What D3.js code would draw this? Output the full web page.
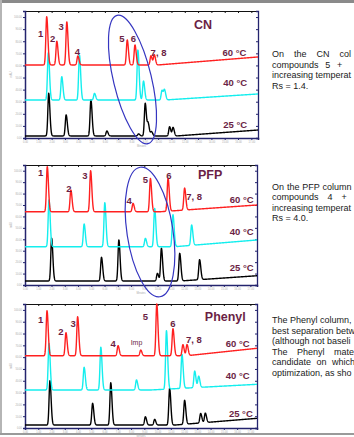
<!DOCTYPE html>
<html>
<head>
<meta charset="utf-8">
<script src="https://cdn.jsdelivr.net/npm/d3@7/dist/d3.min.js"></script>
<style>
  body { margin: 0; background: #fff; overflow: hidden; }
  svg { display: block; font-family: "Liberation Sans", Arial, sans-serif; }
</style>
</head>
<body>
<svg id="chart" width="354" height="437"></svg>
<script>
// ---- data (retention time in minutes, signal in mAU) ----
const panelNames = ["CN", "PFP", "Phenyl"];
const tempLabels = ["60 °C", "40 °C", "25 °C"];

// baseline drift of each trace: [time, mAU] (60, 40, 25 °C)
const cnBase = [
  [[0, 60.4], [10.0, 60.4], [17.5, 67.0]],
  [[0, 31.4], [10.5, 31.4], [17.5, 36.4]],
  [[0, 1.7], [11.4, 1.7], [17.5, 6.6]]
];
const pfpBase = [
  [[0, 64.1], [10.2, 64.1], [17.5, 70.0]],
  [[0, 33.5], [11.3, 33.5], [17.5, 39.4]],
  [[0, 3.5], [11.7, 3.5], [17.5, 8.1]]
];
const phenylBase = [
  [[0, 61.2], [12.2, 61.2], [17.5, 67.5]],
  [[0, 32.2], [9.5, 32.2], [17.5, 37.0]],
  [[0, 2.5], [11.3, 2.5], [17.5, 8.2]]
];

// peaks: [retention time, height above baseline]
const cnPeaks = [
  [[1.63, 39.9], [2.39, 19.6], [3.14, 35.6], [3.97, 7.4], [7.68, 20.7], [8.26, 16.5], [9.46, 7.6], [9.71, 8.4]],
  [[1.75, 39.1], [2.76, 19.3], [4.09, 37.2], [5.22, 5.5], [8.48, 41.3], [8.90, 15.7], [10.29, 8.0], [10.48, 8.0]],
  [[1.78, 35.3], [3.09, 17.4], [4.95, 29.8], [6.15, 4.1], [8.53, 1.7], [9.03, 27.0], [9.25, 10.0], [9.50, 3.5], [10.86, 7.6], [11.12, 7.0]]
];
const pfpPeaks = [
  [[1.68, 39.4], [3.46, 19.0], [4.95, 35.9], [8.15, 7.3], [9.46, 29.1], [10.79, 28.9], [12.04, 19.2]],
  [[1.81, 40.9], [4.46, 19.9], [6.02, 38.5], [9.08, 7.3], [9.78, 33.5], [11.16, 28.0], [12.57, 17.8]],
  [[2.01, 37.4], [5.77, 20.7], [7.08, 35.9], [9.99, 6.7], [10.29, 28.6], [11.67, 24.2], [13.17, 17.5]]
];
const phenylPeaks = [
  [[1.66, 38.1], [3.09, 19.5], [3.97, 33.0], [7.02, 8.5], [8.73, 4.8], [9.94, 43.8], [11.16, 22.9], [11.91, 9.4], [12.22, 9.4]],
  [[1.81, 39.5], [4.46, 19.2], [5.72, 36.2], [8.41, 8.5], [10.67, 49.5], [11.84, 28.8], [12.80, 14.0], [13.10, 9.5]],
  [[1.88, 37.5], [5.10, 18.4], [6.47, 35.8], [9.08, 7.0], [9.78, 4.8], [10.91, 31.1], [12.04, 20.3], [13.25, 8.0], [13.60, 8.0]]
];

// peak names
const cnPeakNames = ["1", "2", "3", "4", "5", "6", "7, 8"];
const pfpPeakNames = ["1", "2", "3", "4", "5", "6", "7, 8"];
const phenylPeakNames = ["1", "2", "3", "4", "Imp", "5", "6", "7, 8"];

// anchors of the annotations in chart units [time, mAU]
const cnNameAt = [[1.18, 86.0], [2.08, 81.9], [2.71, 91.8], [3.94, 71.1], [7.28, 81.9], [8.15, 81.9], [10.03, 70.8]];
const pfpNameAt = [[1.18, 98.3], [3.31, 84.6], [4.52, 95.4], [7.85, 73.8], [9.08, 91.9], [10.86, 95.4], [12.76, 77.3]];
const phenylNameAt = [[1.18, 91.4], [2.71, 81.5], [3.64, 88.7], [6.65, 71.7], [8.41, 72.6], [9.08, 94.2], [11.16, 88.7], [12.74, 74.5]];
const tempAt = [
  [[16.63, 70.3], [16.69, 45.5], [16.69, 10.7]],
  [[17.24, 74.4], [17.24, 46.4], [17.24, 14.9]],
  [[16.94, 71.7], [16.94, 44.3], [17.18, 12.4]]
];
const titleAt = [[13.37, 93.4], [13.96, 96.5], [15.11, 94.2]];

// the notes are cut by the right edge of the slide
const notes = [
  ["On the CN col", "compounds 5 +", "increasing temperat", "Rs = 1.4."],
  ["On the PFP column", "compounds 4 +", "increasing temperat", "Rs = 4.0."],
  ["The Phenyl column,", "best separation betw", "(although not baseli", "The Phenyl mate", "candidate on which", "optimization, as sho"]
];

// ---- layout ----
const traceColors = ["#ff2020", "#14eeee", "#000000"];
const labelColor = "#6b1f45";
const axisColor = "#24246e";
const panels = [
  { top: 11, bottom: 138, left: 25, right: 258, ellipse: { cx: 132.5, cy: 79.5, rx: 19, ry: 66, rot: -13.5 } },
  { top: 165, bottom: 285, left: 25, right: 257, ellipse: { cx: 150, cy: 232, rx: 23, ry: 65.5, rot: -8.7 } },
  { top: 304, bottom: 428, left: 25, right: 257, ellipse: null }
];
const noteLayout = [
  { y: 57, spacing: [7.5, 4.2, 0, 0] },
  { y: 189.5, spacing: [0.4, 6.5, 0, 0] },
  { y: 323, spacing: [0, 0, 0, 7, 3, 0] }
];
const PEAK_SIGMA = 0.075;

const svg = d3.select("#chart");

// page frame
svg.append("rect").attr("x", 0).attr("y", 0).attr("width", 354).attr("height", 3).attr("fill", "#8a8a8a");
svg.append("rect").attr("x", 0).attr("y", 0).attr("width", 2).attr("height", 435).attr("fill", "#b5b5b5");
svg.append("rect").attr("x", 0).attr("y", 433).attr("width", 354).attr("height", 2).attr("fill", "#9a9a9a");

const sampleTimes = d3.range(0, 17.5 + 1e-9, 0.01);

function baselineAt(base, t) {
  for (let i = 1; i < base.length; i++) {
    if (t <= base[i][0]) {
      const [t0, v0] = base[i - 1], [t1, v1] = base[i];
      return v0 + (v1 - v0) * (t - t0) / (t1 - t0);
    }
  }
  return base[base.length - 1][1];
}

function trace(peaks, base) {
  return sampleTimes.map(t => {
    let v = baselineAt(base, t);
    peaks.forEach(([rt, h]) => {
      const s = (t < rt ? 0.85 : 1.2) * PEAK_SIGMA;
      v += h * Math.exp(-((t - rt) * (t - rt)) / (2 * s * s));
    });
    return [t, v];
  });
}

const allBase = [cnBase, pfpBase, phenylBase];
const allPeaks = [cnPeaks, pfpPeaks, phenylPeaks];
const allNames = [cnPeakNames, pfpPeakNames, phenylPeakNames];
const allNameAt = [cnNameAt, pfpNameAt, phenylNameAt];

panels.forEach((p, i) => {
  const x = d3.scaleLinear().domain([0, 17.5]).range([p.left, p.right]);
  const y = d3.scaleLinear().domain([0, 105]).range([p.bottom, p.top]);
  const g = svg.append("g");

  // frame: top and right
  g.append("g").attr("transform", `translate(0,${p.top})`)
    .call(d3.axisTop(x).tickValues(d3.range(0, 17.6, 1)).tickSize(-2).tickFormat(""))
    .call(a => a.select(".domain").attr("stroke", "#111").attr("stroke-width", 1))
    .call(a => a.selectAll(".tick line").attr("stroke", "#111"));
  g.append("g").attr("transform", `translate(${p.right},0)`)
    .call(d3.axisRight(y).tickValues(d3.range(0, 101, 10)).tickSize(-2).tickFormat(""))
    .call(a => a.select(".domain").attr("stroke", axisColor).attr("stroke-width", 1.3))
    .call(a => a.selectAll(".tick line").attr("stroke", axisColor));

  // left / bottom axes
  g.append("g").attr("transform", `translate(${p.left},0)`)
    .call(d3.axisLeft(y).tickValues(d3.range(0, 101, 10)).tickSize(2).tickPadding(1).tickFormat(d3.format(".2f")))
    .call(a => a.select(".domain").attr("stroke", axisColor).attr("stroke-width", 1.5))
    .call(a => a.selectAll(".tick line").attr("stroke", axisColor))
    .call(a => a.selectAll("text").attr("font-size", 2.6).attr("fill", "#aaa"));
  g.append("g").attr("transform", `translate(0,${p.bottom})`)
    .call(d3.axisBottom(x).tickValues(d3.range(0, 17.6, 1)).tickSize(2).tickPadding(1).tickFormat(d3.format(".2f")))
    .call(a => a.select(".domain").attr("stroke", axisColor).attr("stroke-width", 1.5))
    .call(a => a.selectAll(".tick line").attr("stroke", axisColor))
    .call(a => a.selectAll("text").attr("font-size", 2.6).attr("fill", "#aaa"));

  g.append("text").attr("x", (p.left + p.right) / 2).attr("y", p.bottom + 9)
    .attr("text-anchor", "middle").attr("font-size", 2.6).attr("fill", "#aaa").text("Minutes");
  g.append("text").attr("transform", `translate(12,${(p.top + p.bottom) / 2}) rotate(-90)`)
    .attr("text-anchor", "middle").attr("font-size", 2.6).attr("fill", "#aaa").text("mAU");

  // traces: 25 °C first, 60 °C on top
  const line = d3.line().x(d => x(d[0])).y(d => y(d[1]));
  [2, 1, 0].forEach(k => {
    g.append("path")
      .datum(trace(allPeaks[i][k], allBase[i][k]))
      .attr("fill", "none")
      .attr("stroke", traceColors[k])
      .attr("stroke-width", 1.4)
      .attr("stroke-linejoin", "round")
      .attr("d", line);
  });

  // peak names
  allNames[i].forEach((n, j) => {
    const [t, v] = allNameAt[i][j];
    g.append("text")
      .attr("x", x(t)).attr("y", y(v))
      .attr("dy", "0.35em")
      .attr("text-anchor", "middle")
      .attr("font-size", n === "Imp" ? 7 : 9.5)
      .attr("font-weight", n === "Imp" ? "normal" : "bold")
      .attr("fill", labelColor)
      .text(n);
  });

  // temperatures
  tempLabels.forEach((tl, k) => {
    const [t, v] = tempAt[i][k];
    g.append("text")
      .attr("x", x(t)).attr("y", y(v))
      .attr("dy", "0.35em")
      .attr("text-anchor", "end")
      .attr("font-size", 9.5)
      .attr("font-weight", "bold")
      .attr("fill", labelColor)
      .text(tl);
  });

  // column name
  g.append("text")
    .attr("x", x(titleAt[i][0])).attr("y", y(titleAt[i][1]))
    .attr("dy", "0.35em")
    .attr("text-anchor", "middle")
    .attr("font-size", 12.5)
    .attr("font-weight", "bold")
    .attr("fill", labelColor)
    .text(panelNames[i]);

  // notes on the right
  notes[i].forEach((txt, k) => {
    svg.append("text")
      .attr("x", 272)
      .attr("y", noteLayout[i].y + k * 10.6)
      .attr("font-size", 9)
      .attr("word-spacing", noteLayout[i].spacing[k])
      .attr("fill", "#1a1a1a")
      .text(txt);
  });
});

// blue ellipses around the critical pairs (drawn over everything)
panels.forEach(p => {
  if (!p.ellipse) return;
  const e = p.ellipse;
  svg.append("ellipse")
    .attr("transform", `translate(${e.cx},${e.cy}) rotate(${e.rot})`)
    .attr("rx", e.rx).attr("ry", e.ry)
    .attr("fill", "none")
    .attr("stroke", "#3535c0")
    .attr("stroke-width", 1.2);
});
</script>
</body>
</html>
